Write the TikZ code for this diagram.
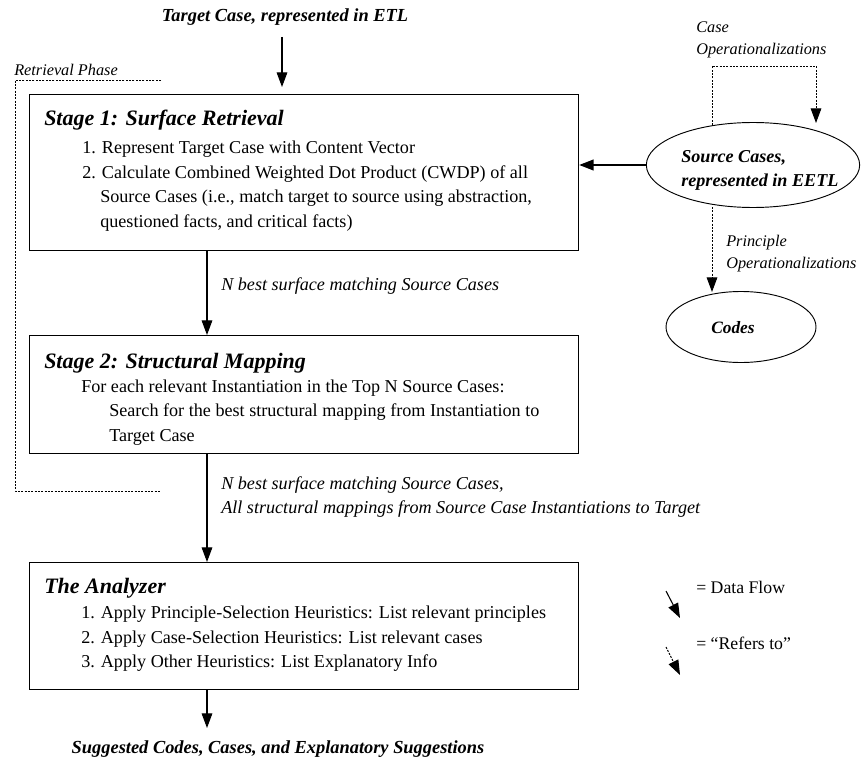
\documentclass[tikz,border=0pt]{standalone}
\usepackage{fontspec}
\setmainfont{Liberation Serif}
\usetikzlibrary{arrows.meta,shapes.geometric,calc}
\begin{document}
\begin{tikzpicture}[x=0.75pt,y=-0.75pt,
 box/.style={draw, line width=0.8pt, anchor=north west, inner sep=0pt},
 txt/.style={anchor=base west, inner sep=0pt, font=\fontsize{13.6}{16}\selectfont},
 ttl/.style={anchor=base west, inner sep=0pt, font=\fontsize{16.5}{19}\selectfont\bfseries\itshape},
 bigit/.style={inner sep=0pt, font=\fontsize{13.8}{16}\selectfont\bfseries\itshape},
 srcit/.style={inner sep=0pt, font=\fontsize{13.6}{16}\selectfont\bfseries\itshape},
 lbl/.style={anchor=base west, inner sep=0pt, font=\fontsize{13.6}{16}\selectfont\itshape},
 small/.style={anchor=base west, inner sep=0pt, font=\fontsize{12.2}{14}\selectfont\itshape},
 flow/.style={line width=0.8pt, -{Triangle[length=11pt,width=8pt]}},
 refer/.style={line width=0.7pt, dash pattern=on 1.5pt off 1pt, -{Triangle[length=11pt,width=8pt]}},
 zone/.style={line width=0.7pt, dash pattern=on 1.5pt off 1pt},
 oval/.style={draw, ellipse, line width=0.7pt, inner sep=0pt},
]
\useasboundingbox (0,0) rectangle (862,759);

% top input
\node[bigit, anchor=base] (tc) at (285,22) {Target Case, represented in ETL};
\coordinate (tcs) at (282,37);

% retrieval phase zone
\node[small] (rp) at (14,76) {Retrieval Phase};
\draw[zone] (161,80) -- (15,80) -- (15,491) -- (161,491);

% Stage 1
\node[box, minimum width=411.75pt, minimum height=117pt] (s1) at (29,94) {};
\node[ttl] (s1t) at (44,126) {Stage 1: Surface Retrieval};
\node[txt] (s1a) at (82,154) {1. Represent Target Case with Content Vector};
\node[txt] (s1b) at (82,179) {2. Calculate Combined Weighted Dot Product (CWDP) of all};
\node[txt] (s1c) at (100,203) {Source Cases (i.e., match target to source using abstraction,};
\node[txt] (s1d) at (100,227) {questioned facts, and critical facts)};

% Stage 2
\node[box, minimum width=411.75pt, minimum height=88.5pt] (s2) at (29,335) {};
\node[ttl] (s2t) at (44,368) {Stage 2: Structural Mapping};
\node[txt] (s2a) at (81,392) {For each relevant Instantiation in the Top N Source Cases:};
\node[txt] (s2b) at (109,416) {Search for the best structural mapping from Instantiation to};
\node[txt] (s2c) at (109,441) {Target Case};

% Analyzer
\node[box, minimum width=411.75pt, minimum height=95.25pt] (an) at (29,562) {};
\node[ttl] (ant) at (44,593) {The Analyzer};
\node[txt] (ana) at (81,618) {1. Apply Principle-Selection Heuristics: List relevant principles};
\node[txt] (anb) at (81,643) {2. Apply Case-Selection Heuristics: List relevant cases};
\node[txt] (anc) at (81,667) {3. Apply Other Heuristics: List Explanatory Info};

% output
\node[bigit, anchor=base] (out) at (278,753) {Suggested Codes, Cases, and Explanatory Suggestions};
\coordinate (outa) at (207,728);

% flow arrows
\draw[flow] (tcs) -- ($(tcs |- s1.north)+(0,-7)$);
\coordinate (x1) at (207,0);
\draw[flow] (x1 |- s1.south) -- (x1 |- s2.north);
\draw[flow] (x1 |- s2.south) -- (x1 |- an.north);
\draw[flow] (x1 |- an.south) -- (outa);

% flow labels
\node[lbl] (l1) at (221,290) {N best surface matching Source Cases};
\node[lbl] (l2) at (221,489) {N best surface matching Source Cases,};
\node[lbl] (l3) at (221,513) {All structural mappings from Source Case Instantiations to Target};

% Source cases
\node[oval, minimum width=160pt, minimum height=63.75pt] (src) at (753,165) {};
\node[srcit, anchor=base west] (srct1) at (681,163) {Source Cases,};
\node[srcit, anchor=base west] (srct2) at (681,187) {represented in EETL};
\draw[line width=1.6pt, -{Triangle[length=11pt,width=8pt]}] (src.west) -- (src.west -| s1.east);

% Case operationalizations loop
\node[small] (co1) at (696,33) {Case};
\node[small] (co2) at (696,55) {Operationalizations};
\coordinate (cl) at (712,125);
\coordinate (cr) at (816,123);
\draw[refer] (cl) -- (712,66) -| (cr);

% Codes
\node[oval, minimum width=112.5pt, minimum height=53.25pt] (codes) at (741,327) {};
\node[srcit, font=\fontsize{13}{15}\selectfont\bfseries\itshape, anchor=base] (codest) at (733,333) {Codes};
\coordinate (pl) at (712,207);
\coordinate (pt) at (712,292);
\draw[refer] (pl) -- (pt);
\node[small] (po1) at (726,246) {Principle};
\node[small] (po2) at (726,268) {Operationalizations};

% Legend
\coordinate (d1) at (666,591);
\coordinate (d2) at (680,618);
\draw[flow] (d1) -- (d2);
\node[txt, font=\fontsize{13.3}{16}\selectfont] (dl) at (696,593) {= Data Flow};
\coordinate (r1) at (666,647);
\coordinate (r2) at (680,675);
\draw[refer] (r1) -- (r2);
\node[txt, font=\fontsize{13.3}{16}\selectfont] (rl) at (696,649) {= ``Refers to''};
\end{tikzpicture}
\end{document}
